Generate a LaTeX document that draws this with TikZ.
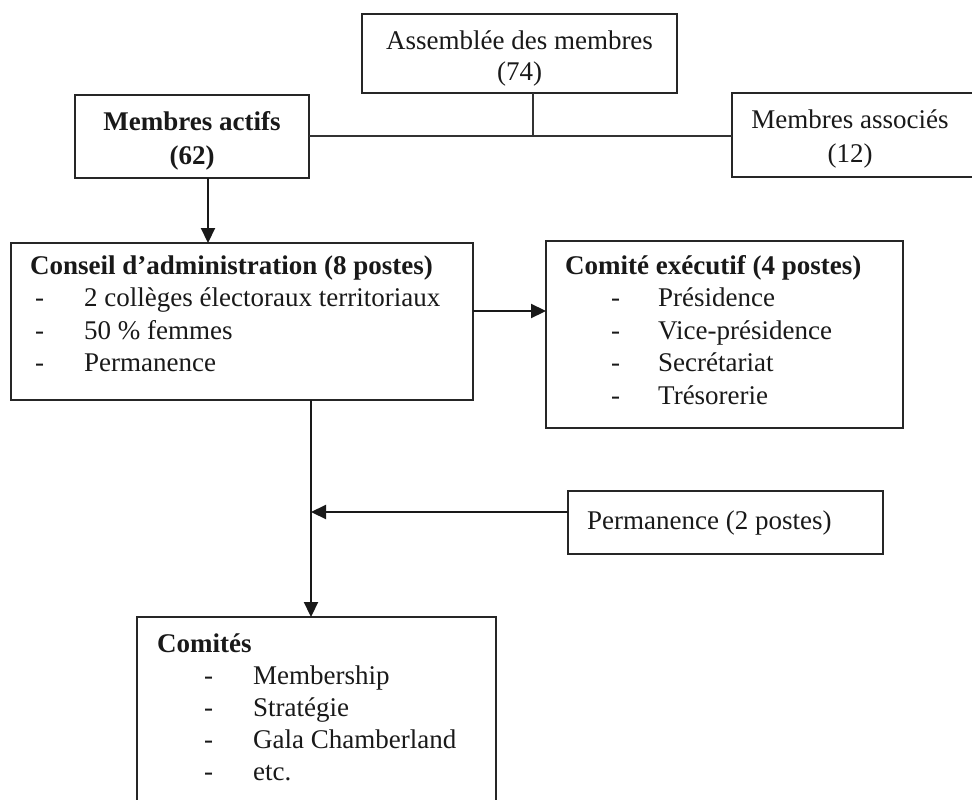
\documentclass[tikz,border=0pt]{standalone}
\usepackage{fontspec}
\setmainfont{Liberation Serif}
\usetikzlibrary{arrows.meta}
\begin{document}
\begin{tikzpicture}[x=1pt,y=-1pt,
  box/.style={draw=black!85, line width=1.4pt, inner sep=0pt, outer sep=0pt},
  txt/.style={inner sep=0pt, font=\fontsize{27}{33}\selectfont, text=black!90},
  bold/.style={inner sep=0pt, font=\fontsize{27}{33}\selectfont\bfseries, text=black!90},
  link/.style={draw=black!80, line width=1.3pt},
  flow/.style={draw=black!90, line width=2.2pt, -{Triangle[length=15pt,width=14pt]}},
]
\useasboundingbox (0,0) rectangle (972,800);

% Assembly of members
\node[box, minimum width=315pt, minimum height=79pt] (assemblee) at (519.5,53.5) {};
\node[txt, anchor=base] (assembleeA) at (519.5,50) {Assemblée des membres};
\node[txt, anchor=base] (assembleeB) at (519.5,81) {(74)};

% Active and associate members
\node[box, minimum width=234pt, minimum height=83pt] (actifs) at (192,136.5) {};
\node[bold, anchor=base] (actifsA) at (192,130) {Membres actifs};
\node[bold, anchor=base] (actifsB) at (192,164) {(62)};

\node[box, minimum width=244pt, minimum height=84pt] (associes) at (854,135) {};
\node[txt, anchor=base] (associesA) at (850,128) {Membres associés};
\node[txt, anchor=base] (associesB) at (850,162) {(12)};

\coordinate (hub) at (533,136);
\draw[link] (assemblee.south -| hub) -- (hub);
\draw[link] (actifs.east |- hub) -- (associes.west |- hub);

% Board of directors
\node[box, minimum width=462pt, minimum height=157pt] (conseil) at (242,321.5) {};
\node[bold, anchor=base west] (conseilT) at (30,274) {Conseil d’administration (8 postes)};
\foreach \t [count=\i] in {2 collèges électoraux territoriaux, 50 \% femmes, Permanence} {
  \node[txt, anchor=base west] (conseilD\i) at (35,{274+32.5*\i}) {-};
  \node[txt, anchor=base west] (conseilI\i) at (84,{274+32.5*\i}) {\t};
}

% Executive committee
\node[box, minimum width=357pt, minimum height=187pt] (executif) at (724.5,334.5) {};
\node[bold, anchor=base west] (executifT) at (565,274) {Comité exécutif (4 postes)};
\foreach \t [count=\i] in {Présidence, Vice-présidence, Secrétariat, Trésorerie} {
  \node[txt, anchor=base west] (executifD\i) at (611,{274+32.5*\i}) {-};
  \node[txt, anchor=base west] (executifI\i) at (658,{274+32.5*\i}) {\t};
}

% Permanent staff
\node[box, minimum width=315pt, minimum height=63pt] (permanence) at (725.5,522.5) {};
\node[txt, anchor=base west] (permanenceT) at (587,529) {Permanence (2 postes)};

% Committees
\node[box, minimum width=359pt, minimum height=203pt] (comites) at (316.5,718.5) {};
\node[bold, anchor=base west] (comitesT) at (157,652) {Comités};
\foreach \t [count=\i] in {Membership, Stratégie, Gala Chamberland, etc.} {
  \node[txt, anchor=base west] (comitesD\i) at (204,{652+32*\i}) {-};
  \node[txt, anchor=base west] (comitesI\i) at (253,{652+32*\i}) {\t};
}

% Flow arrows
\draw[flow] ([xshift=16pt]actifs.south) -- ([xshift=16pt]actifs.south |- conseil.north);
\draw[flow] ([yshift=10.5pt]conseil.east) -- ([yshift=10.5pt]conseil.east -| executif.west);
\coordinate (trunk) at ([xshift=69pt]conseil.south);
\draw[flow] (trunk) -- (trunk |- comites.north);
\draw[flow] ([yshift=10.5pt]permanence.west) -- ([yshift=10.5pt]permanence.west -| trunk);
\end{tikzpicture}
\end{document}
